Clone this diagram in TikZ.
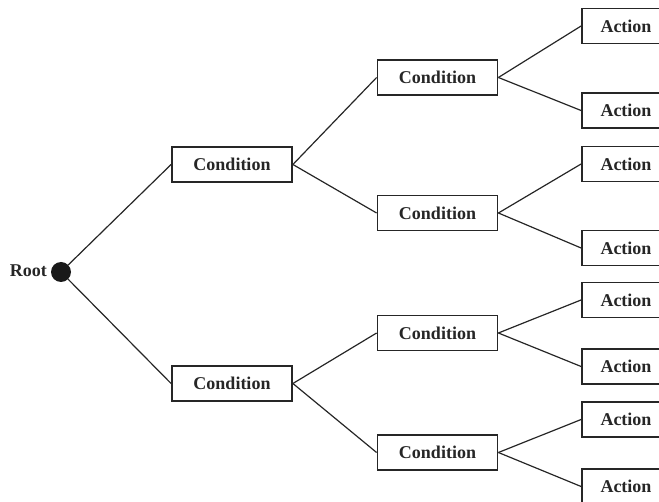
\documentclass[tikz,border=0pt]{standalone}
\usepackage{fontspec}
\setmainfont{Liberation Serif}
\begin{document}
\begin{tikzpicture}[x=1pt,y=-1pt,
  label font/.style={font=\fontsize{18}{20}\selectfont\bfseries, text=black!85},
  box/.style={draw=black!85, line width=1.8pt, fill=white, minimum height=35pt,
              inner sep=0pt, label font},
  cond/.style={box, minimum width=120pt},
  act/.style={box, minimum width=88pt},
  link/.style={draw=black!85, line width=1.2pt}]
\useasboundingbox (0,0) rectangle (659,502);
\clip (0,0) rectangle (659,502);

% root of the tree
\node[circle, fill=black!90, minimum size=20pt, inner sep=0pt] (root) at (61,272) {};
\node[label font, anchor=east, inner sep=0pt] (rootlabel) at (47,271) {Root};

% first level of conditions
\node[cond] (c1) at (232,164.5) {Condition};
\node[cond] (c2) at (232,383.5) {Condition};

% second level of conditions
\node[cond] (c11) at (437.5,77.5) {Condition};
\node[cond] (c12) at (437.5,213) {Condition};
\node[cond] (c21) at (437.5,333) {Condition};
\node[cond] (c22) at (437.5,452.5) {Condition};

% actions at the leaves
\node[act] (a1) at (626,26) {Action};
\node[act] (a2) at (626,110.5) {Action};
\node[act] (a3) at (626,164) {Action};
\node[act] (a4) at (626,248) {Action};
\node[act] (a5) at (626,300) {Action};
\node[act] (a6) at (626,366.5) {Action};
\node[act] (a7) at (626,419.5) {Action};
\node[act] (a8) at (626,486.5) {Action};

% branches
\draw[link] (root) -- (c1.west);
\draw[link] (root) -- (c2.west);
\draw[link] (c1.east) -- (c11.west);
\draw[link] (c1.east) -- (c12.west);
\draw[link] (c2.east) -- (c21.west);
\draw[link] (c2.east) -- (c22.west);
\draw[link] (c11.east) -- (a1.west);
\draw[link] (c11.east) -- (a2.west);
\draw[link] (c12.east) -- (a3.west);
\draw[link] (c12.east) -- (a4.west);
\draw[link] (c21.east) -- (a5.west);
\draw[link] (c21.east) -- (a6.west);
\draw[link] (c22.east) -- (a7.west);
\draw[link] (c22.east) -- (a8.west);
\end{tikzpicture}
\end{document}
